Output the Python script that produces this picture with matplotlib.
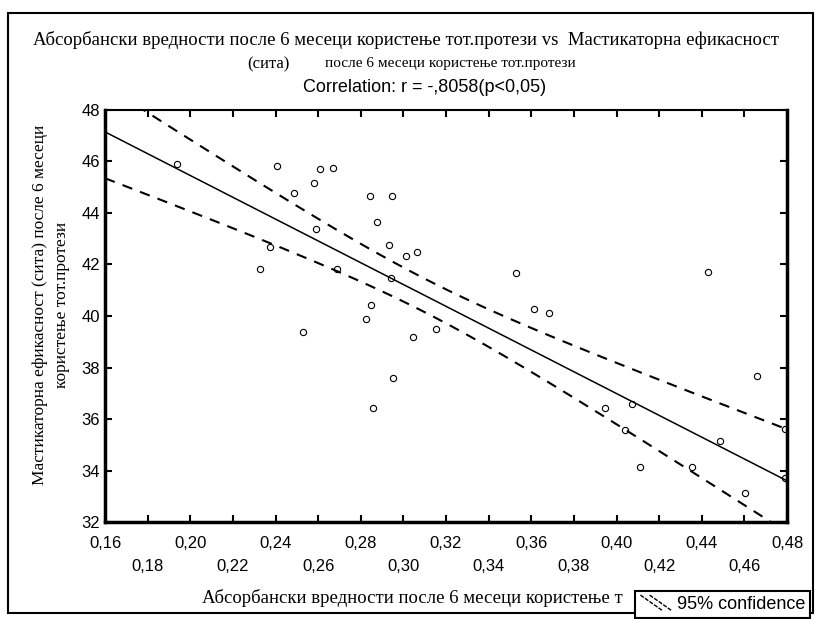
import numpy as np
import matplotlib
matplotlib.use('Agg')
import matplotlib.pyplot as plt
from matplotlib.lines import Line2D
from matplotlib.legend_handler import HandlerBase
from matplotlib.patches import Rectangle

# absorbance after 6 months vs masticatory efficiency after 6 months
absorb = [0.194, 0.2405, 0.2607, 0.2668, 0.2579, 0.2485, 0.2842, 0.2946, 0.2875,
          0.2588, 0.2932, 0.3064, 0.3012, 0.2372, 0.2325, 0.2687, 0.2941, 0.2847,
          0.2824, 0.2527, 0.3045, 0.3153, 0.2951, 0.2856, 0.3529, 0.3614, 0.3685,
          0.4428, 0.4659, 0.3944, 0.4071, 0.4038, 0.4108, 0.4485, 0.4353, 0.4602,
          0.479, 0.479]
effic = [45.9, 45.83, 45.71, 45.75, 45.17, 44.78, 44.66, 44.66, 43.65,
         43.38, 42.76, 42.49, 42.33, 42.68, 41.83, 41.83, 41.48, 40.43,
         39.88, 39.38, 39.18, 39.5, 37.59, 36.43, 41.67, 40.27, 40.12,
         41.71, 37.67, 36.43, 36.58, 35.57, 34.14, 35.15, 34.14, 33.13,
         33.7, 35.6]

# regression line (value at x=0.16 and x=0.48)
fit_x = [0.16, 0.48]
fit_y = [47.15, 33.6]
# 95% band half width read at left end, minimum, right end
band_half = [1.8, 0.65, 2.0]

xticks = np.arange(0.16, 0.481, 0.02)
yticks = np.arange(32, 49, 2)

title1 = 'Абсорбански вредности после 6 месеци користење тот.протези vs  Мастикаторна ефикасност'
title2a = '(сита)'
title2b = 'после 6 месеци користење тот.протези'
title3 = 'Correlation: r = -,8058(p<0,05)'
ylab = 'Мастикаторна ефикасност (сита) после 6 месеци\nкористење тот.протези'
xlab = 'Абсорбански вредности после 6 месеци користење т'

x = np.array(absorb)
y = np.array(effic)
slope = (fit_y[1] - fit_y[0]) / (fit_x[1] - fit_x[0])
xx = np.linspace(fit_x[0], fit_x[1], 200)
yy = fit_y[0] + slope * (xx - fit_x[0])
# hyperbolic band through the read half widths
h0 = band_half[1] ** 2
r = np.sqrt((band_half[2] ** 2 - h0) / (band_half[0] ** 2 - h0))
m = (fit_x[1] + r * fit_x[0]) / (1 + r)
k = (band_half[0] ** 2 - h0) / (fit_x[0] - m) ** 2
half = np.sqrt(h0 + k * (xx - m) ** 2)

serif = ['Liberation Serif', 'DejaVu Serif']
sans = ['Liberation Sans', 'DejaVu Sans']

fig = plt.figure(figsize=(8.16, 6.19), dpi=100)
ax = fig.add_axes([0.1287, 0.1567, 0.8358, 0.6656])

ax.plot(xx, yy, color='black', lw=1.1)
ax.plot(xx, yy + half, color='black', lw=1.5, ls=(0, (5, 4)))
ax.plot(xx, yy - half, color='black', lw=1.5, ls=(0, (5, 4)))
ax.plot(x, y, 'o', mfc='none', mec='black', ms=4.5, mew=0.8)

ax.set_xlim(0.16, 0.48)
ax.set_ylim(32, 48)
ax.set_xticks(xticks)
ax.set_yticks(yticks)
ax.set_xticklabels([])
ax.set_yticklabels(['%d' % v for v in yticks], family=sans, fontsize=12)
for i, v in enumerate(xticks):
    lab = ('%.2f' % v).replace('.', ',')
    ax.text(v, -0.051 if i % 2 == 0 else -0.109, lab, transform=ax.get_xaxis_transform(),
            ha='center', va='center', family=sans, fontsize=12)
ax.tick_params(direction='in', length=5, width=1.5, top=True, right=True)
for side in ['left', 'bottom', 'right']:
    ax.spines[side].set_linewidth(2.5)
ax.spines['top'].set_linewidth(1.5)

fig.text(406 / 816, 1 - 40 / 619, title1, ha='center', va='center', family=serif, fontsize=13.5)
fig.text(268 / 816, 1 - 64 / 619, title2a, ha='center', va='center', family=serif, fontsize=12)
fig.text(325 / 816, 1 - 64 / 619, title2b, ha='left', va='center', family=serif, fontsize=11)
fig.text(425 / 816, 1 - 88 / 619, title3, ha='center', va='center', family=sans, fontsize=13)
fig.text(0.062, 1 - 305 / 619, ylab, ha='center', va='center', rotation=90,
         family=serif, fontsize=12.5, linespacing=1.5)
fig.text(202 / 816, 1 - 598 / 619, xlab, ha='left', va='center', family=serif, fontsize=13.5)

# outer frame
fig.add_artist(Rectangle((8 / 816, 6 / 619), 805 / 816, 600 / 619, transform=fig.transFigure,
                         fill=False, lw=1.5, ec='black'))


class DiagHandler(HandlerBase):
    def create_artists(self, legend, orig, xd, yd, w, h, fontsize, trans):
        l1 = Line2D([0, w * 0.7], [h * 1.1, -h * 0.1], color='black', lw=1, ls=(0, (3, 1)), transform=trans)
        l2 = Line2D([w * 0.3, w], [h * 1.1, -h * 0.1], color='black', lw=1, ls=(0, (3, 1)), transform=trans)
        return [l1, l2]


leg = fig.legend([Line2D([], [])], ['95% confidence'], handler_map={Line2D: DiagHandler()},
                 loc='lower left', bbox_to_anchor=(635 / 816, 0.001), frameon=True,
                 fancybox=False, edgecolor='black', framealpha=1, prop={'family': sans, 'size': 13},
                 borderpad=0.3, handlelength=1.7, handletextpad=0.3, borderaxespad=0)
leg.get_frame().set_linewidth(1.5)
leg.set_zorder(10)

fig.savefig('out.png', dpi=100)
